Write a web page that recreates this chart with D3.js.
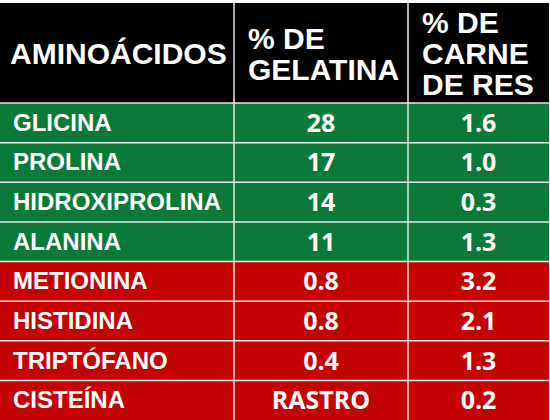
<!DOCTYPE html>
<html><head><meta charset="utf-8">
<script src="https://cdn.jsdelivr.net/npm/d3@7"></script>
<style>body{margin:0;background:#fff}</style>
</head><body><svg id="t" width="550" height="420"></svg>
<script>
var headers = [["AMINOÁCIDOS"], ["% DE", "GELATINA"], ["% DE", "CARNE", "DE RES"]];
var aminoacids = ["GLICINA", "PROLINA", "HIDROXIPROLINA", "ALANINA", "METIONINA", "HISTIDINA", "TRIPTÓFANO", "CISTEÍNA"];
var gelatina = ["28", "17", "14", "11", "0.8", "0.8", "0.4", "RASTRO"];
var carne = ["1.6", "1.0", "0.3", "1.3", "3.2", "2.1", "1.3", "0.2"];
var groups = ["g", "g", "g", "g", "r", "r", "r", "r"];

var svg = d3.select("#t");
var colX = [0, 234, 408, 549];
var headTop = 3, headH = 100;
var y = d3.scaleBand().domain(d3.range(aminoacids.length)).range([headTop + headH, 420]);
var fill = d3.scaleOrdinal().domain(["g", "r"]).range(["#0b7a38", "#c40404"]);

// header
svg.append("rect").attr("x", 0).attr("y", headTop).attr("width", 549).attr("height", headH).attr("fill", "#000");
headers.forEach(function(lines, i) {
  var x = i == 0 ? 10 : colX[i] + 14;
  var n = lines.length;
  var t = svg.append("text").attr("fill", "#fff")
    .attr("font-family", "Liberation Sans, Arial, sans-serif").attr("font-weight", "bold").attr("font-size", 30);
  lines.forEach(function(l, k) {
    t.append("tspan").attr("x", x)
      .attr("y", headTop + headH / 2 + 11 + (k - (n - 1) / 2) * 31).text(l);
  });
});

// rows
var rows = svg.selectAll("g.row").data(aminoacids).enter().append("g")
  .attr("transform", function(d, i) { return "translate(0," + y(i) + ")"; });
rows.append("rect").attr("width", 549).attr("height", y.bandwidth())
  .attr("fill", function(d, i) { return fill(groups[i]); });
rows.append("text").attr("x", 13).attr("y", y.bandwidth() / 2 + 8)
  .attr("fill", "#fff").attr("font-family", "Liberation Sans, Arial, sans-serif")
  .attr("font-weight", "bold").attr("font-size", 24).text(function(d) { return d; });
rows.append("text").attr("x", (colX[1] + colX[2]) / 2).attr("y", y.bandwidth() / 2 + 9)
  .attr("text-anchor", "middle").attr("fill", "#fff").attr("font-family", "Open Sans, sans-serif")
  .attr("font-weight", "bold").attr("font-size", 25).text(function(d, i) { return gelatina[i]; });
rows.append("text").attr("x", (colX[2] + colX[3]) / 2).attr("y", y.bandwidth() / 2 + 9)
  .attr("text-anchor", "middle").attr("fill", "#fff").attr("font-family", "Open Sans, sans-serif")
  .attr("font-weight", "bold").attr("font-size", 25).text(function(d, i) { return carne[i]; });

// grid lines
y.domain().forEach(function(i) {
  svg.append("line").attr("x1", 0).attr("x2", 549).attr("y1", y(i)).attr("y2", y(i))
    .attr("stroke", "#e8e8e8").attr("stroke-width", 1.5);
});
[234, 408].forEach(function(x) {
  svg.append("line").attr("x1", x).attr("x2", x).attr("y1", headTop).attr("y2", 420)
    .attr("stroke", "#e8e8e8").attr("stroke-width", 1.5);
});
</script></body></html>
